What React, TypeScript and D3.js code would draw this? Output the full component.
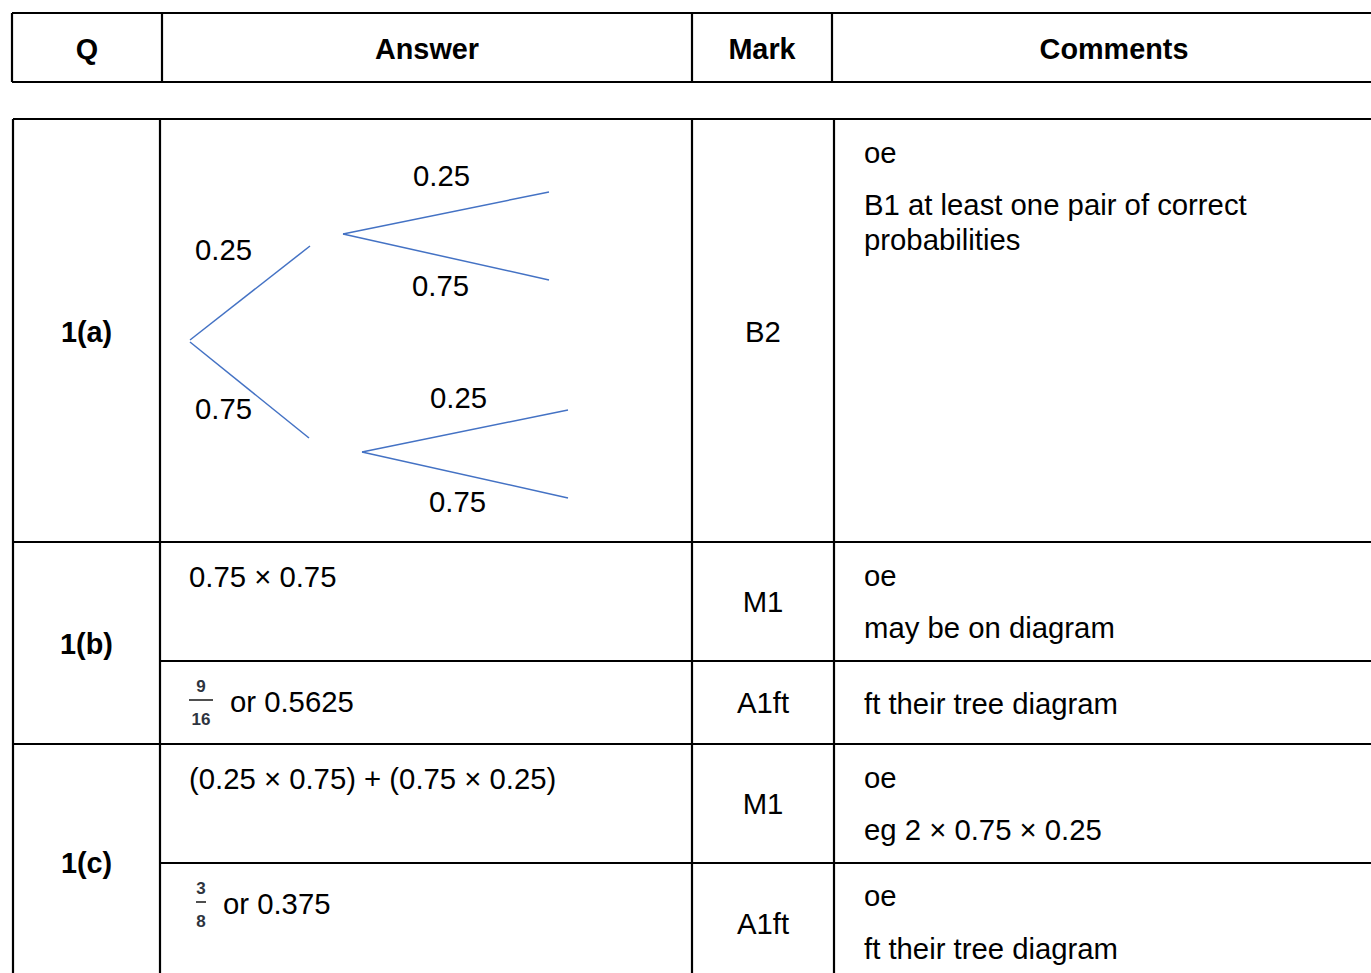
import { useEffect, useRef } from "react";
import * as d3 from "d3";

// header labels
const headers = ["Q", "Answer", "Mark", "Comments"];

// tree diagram: first-stage and second-stage branch probabilities
const firstStage = ["0.25", "0.75"];
const secondStage = [
  ["0.25", "0.75"],
  ["0.25", "0.75"],
];

// rows of the mark scheme
const questions = ["1(a)", "1(b)", "1(c)"];
const answers = ["", "0.75 × 0.75", "or 0.5625", "(0.25 × 0.75) + (0.75 × 0.25)", "or 0.375"];
const marks = ["B2", "M1", "A1ft", "M1", "A1ft"];
const comments = [
  ["oe", "B1 at least one pair of correct", "probabilities"],
  ["oe", "may be on diagram"],
  ["ft their tree diagram"],
  ["oe", "eg 2 × 0.75 × 0.25"],
  ["oe", "ft their tree diagram"],
];
const fractions = [
  { num: "9", den: "16", row: 2 },
  { num: "3", den: "8", row: 4 },
];

const FONT = "'Liberation Sans', Arial, sans-serif";
const FS = 29.3;

export default function App() {
  const ref = useRef<SVGSVGElement>(null);

  useEffect(() => {
    const svg = d3.select(ref.current);
    svg.selectAll("*").remove();

    const line = (x1: number, y1: number, x2: number, y2: number, w = 2.2) =>
      svg.append("line")
        .attr("x1", x1).attr("y1", y1).attr("x2", x2).attr("y2", y2)
        .attr("stroke", "#000").attr("stroke-width", w);

    const text = (s: string, x: number, y: number, anchor = "start", bold = false) =>
      svg.append("text")
        .attr("x", x).attr("y", y)
        .attr("text-anchor", anchor)
        .attr("font-family", FONT)
        .attr("font-size", bold ? 28.8 : FS)
        .attr("font-weight", bold ? "bold" : "normal")
        .attr("fill", "#000")
        .text(s);

    // ---- header table (right edge runs off the page)
    const hx = [12, 162, 692, 832, 1396];
    const hTop = 13, hBot = 82;
    line(hx[0], hTop, hx[4], hTop);
    line(hx[0], hBot, hx[4], hBot);
    hx.slice(0, 4).forEach(x => line(x, hTop, x, hBot));
    headers.forEach((h, i) => text(h, (hx[i] + hx[i + 1]) / 2, 59, "middle", true));

    // ---- body table
    const bx = [13, 160, 692, 834, 1396];
    // row boundaries: 1(a), 1(b) M1, 1(b) A1, 1(c) M1, 1(c) A1
    const rowY = [119, 542, 661, 744, 863, 980];
    const qRows = [[0, 1], [1, 3], [3, 5]];

    line(bx[0], rowY[0], bx[4], rowY[0]);
    bx.slice(0, 4).forEach(x => line(x, rowY[0], x, rowY[5]));
    rowY.slice(1, 5).forEach((y, i) => {
      const full = qRows.some(r => r[0] === i + 1);
      line(full ? bx[0] : bx[1], y, bx[4], y);
    });

    // question labels
    questions.forEach((q, i) => {
      const [a, b] = qRows[i];
      const bottom = Math.min(rowY[b], 993);
      text(q, (bx[0] + bx[1]) / 2, (rowY[a] + bottom) / 2 + 11, "middle", true);
    });

    // marks
    marks.forEach((m, i) => {
      const mid = i === 0 ? 332 : (rowY[i] + rowY[i + 1]) / 2;
      const yy = i === 4 ? 934 : mid + 10;
      text(m, (bx[2] + bx[3]) / 2, yy, "middle");
    });

    // comments
    const commentY = [[163, 215, 250], [586, 638], [714], [788, 840], [906, 959]];
    comments.forEach((c, i) => c.forEach((s, j) => text(s, 864, commentY[i][j])));

    // answers
    const answerPos = [[0, 0], [189, 587], [230, 712], [189, 789], [223, 914]];
    answers.forEach((a, i) => { if (a) text(a, answerPos[i][0], answerPos[i][1]); });

    // small fractions
    const fracPos = [[201, 700], [201, 902]];
    fractions.forEach((f, i) => {
      const [cx, cy] = fracPos[i];
      const w = f.den.length > 1 ? 12 : 5;
      svg.append("line").attr("x1", cx - w).attr("x2", cx + w).attr("y1", cy).attr("y2", cy)
        .attr("stroke", "#222").attr("stroke-width", 1.6);
      [[f.num, cy - 8], [f.den, cy + 25]].forEach(([s, y]) =>
        svg.append("text").attr("x", cx).attr("y", y as number).attr("text-anchor", "middle")
          .attr("font-family", FONT).attr("font-size", 17).attr("font-weight", "bold")
          .attr("fill", "#2e3440").text(s as string));
    });

    // ---- tree diagram
    const blue = "#4472C4";
    const branch = d3.line<[number, number]>();
    const root: [number, number] = [190, 341];
    const firstEnds: [number, number][] = [[310, 246], [309, 438]];
    const secondNodes: [number, number][] = [[343, 234], [362, 452]];
    const leafX = [549, 568];
    const leafDy = [[-42, 46], [-42, 46]];

    firstStage.forEach((p, i) => {
      svg.append("path").attr("d", branch([[root[0], root[1] + (i ? 1 : -1)], firstEnds[i]]))
        .attr("fill", "none").attr("stroke", blue).attr("stroke-width", 1.5);
      text(p, 195, i === 0 ? 260 : 419);
    });

    const secondLabelPos = [[[413, 186], [412, 296]], [[430, 408], [429, 512]]];
    secondStage.forEach((pair, i) => {
      const n = secondNodes[i];
      pair.forEach((p, j) => {
        svg.append("path").attr("d", branch([n, [leafX[i], n[1] + leafDy[i][j]]]))
          .attr("fill", "none").attr("stroke", blue).attr("stroke-width", 1.5);
        text(p, secondLabelPos[i][j][0], secondLabelPos[i][j][1]);
      });
    });
  }, []);

  return (
    <svg
      ref={ref}
      width={1371}
      height={973}
      style={{ position: "fixed", left: 0, top: 0, background: "#fff" }}
    />
  );
}
